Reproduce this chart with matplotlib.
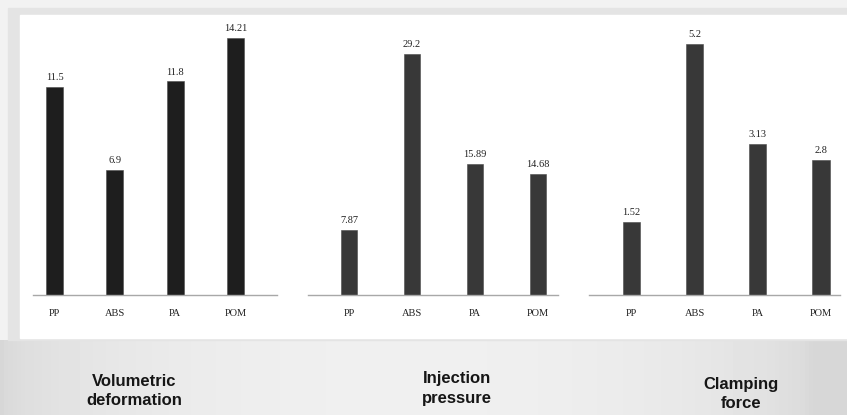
import matplotlib
matplotlib.use("Agg")
import matplotlib.pyplot as plt
import numpy as np
from matplotlib.patches import Rectangle

W, H = 847, 415

materials = ["PP", "ABS", "PA", "POM"]
volumetric_deformation = [11.5, 6.9, 11.8, 14.21]
injection_pressure = [7.87, 29.2, 15.89, 14.68]
clamping_force = [1.52, 5.2, 3.13, 2.8]
value_labels = [
    ["11.5", "6.9", "11.8", "14.21"],
    ["7.87", "29.2", "15.89", "14.68"],
    ["1.52", "5.2", "3.13", "2.8"],
]
titles = [
    ("Volumetric", "deformation"),
    ("Injection", "pressure"),
    ("Clamping", "force"),
]

# per panel: axis line left/right in px, xlim, ylim top, bar width, colour
panels = [
    dict(values=volumetric_deformation, x0=33, x1=277, xlim=(-0.357, 3.69),
         ymax=15.47, width=0.28, color="#1e1e1e"),
    dict(values=injection_pressure, x0=308, x1=558, xlim=(-0.65, 3.32),
         ymax=33.9, width=0.26, color="#383838"),
    dict(values=clamping_force, x0=589, x1=840, xlim=(-0.67, 3.30),
         ymax=5.80, width=0.27, color="#383838"),
]
title_pos = [(134, 386, 405), (457, 383, 403), (741, 389, 408)]

fig = plt.figure(figsize=(W / 100, H / 100), dpi=100)
fig.patch.set_facecolor("#f2f2f2")

# background: grey gradient strip at the bottom, light frame, white panel
bg = fig.add_axes([0, 0, 1, 1])
bg.set_xlim(0, W)
bg.set_ylim(H, 0)
bg.axis("off")
xs = np.linspace(0, 1, 200)
shade = 0.84 + 0.10 * np.sin(np.pi * np.clip(xs * 1.04, 0, 1)) ** 0.5
grad = np.tile(shade, (20, 1))
bg.imshow(grad, cmap="gray", vmin=0, vmax=1, extent=(0, W, H, 340),
          aspect="auto", zorder=0)
bg.add_patch(Rectangle((8, 8), W - 8, 332, color="#e4e4e4", zorder=1))
bg.add_patch(Rectangle((20, 15), W - 20, 323, color="white", zorder=2))

base_px = 295
top_px = 15
for i, p in enumerate(panels):
    ax = fig.add_axes([p["x0"] / W, (H - base_px) / H,
                       (p["x1"] - p["x0"]) / W, (base_px - top_px) / H])
    ax.patch.set_alpha(0)
    x = np.arange(len(materials))
    ax.bar(x, p["values"], width=p["width"], color=p["color"],
           edgecolor="#4a4a4a", linewidth=0.4)
    for xi, v, lab in zip(x, p["values"], value_labels[i]):
        ax.annotate(lab, (xi, v), xytext=(0, 3.5), textcoords="offset points",
                    ha="center", va="bottom", fontsize=7.5,
                    family="Liberation Serif", color="#222222")
    ax.set_xlim(*p["xlim"])
    ax.set_ylim(0, p["ymax"])
    ax.set_xticks(x)
    ax.set_xticklabels(materials, family="Liberation Serif", fontsize=7.5,
                       color="#222222")
    ax.tick_params(axis="x", length=0, pad=10)
    ax.set_yticks([])
    for s in ["top", "right", "left"]:
        ax.spines[s].set_visible(False)
    ax.spines["bottom"].set_color("#a8a8a8")
    ax.spines["bottom"].set_linewidth(1.0)

for (l1, l2), (cx, y1, y2) in zip(titles, title_pos):
    for txt, yy in ((l1, y1), (l2, y2)):
        fig.text(cx / W, 1 - yy / H, txt, ha="center", va="baseline",
                 fontsize=12, fontweight="bold", family="Liberation Sans",
                 color="#161616")

fig.savefig("out.png", dpi=100)
